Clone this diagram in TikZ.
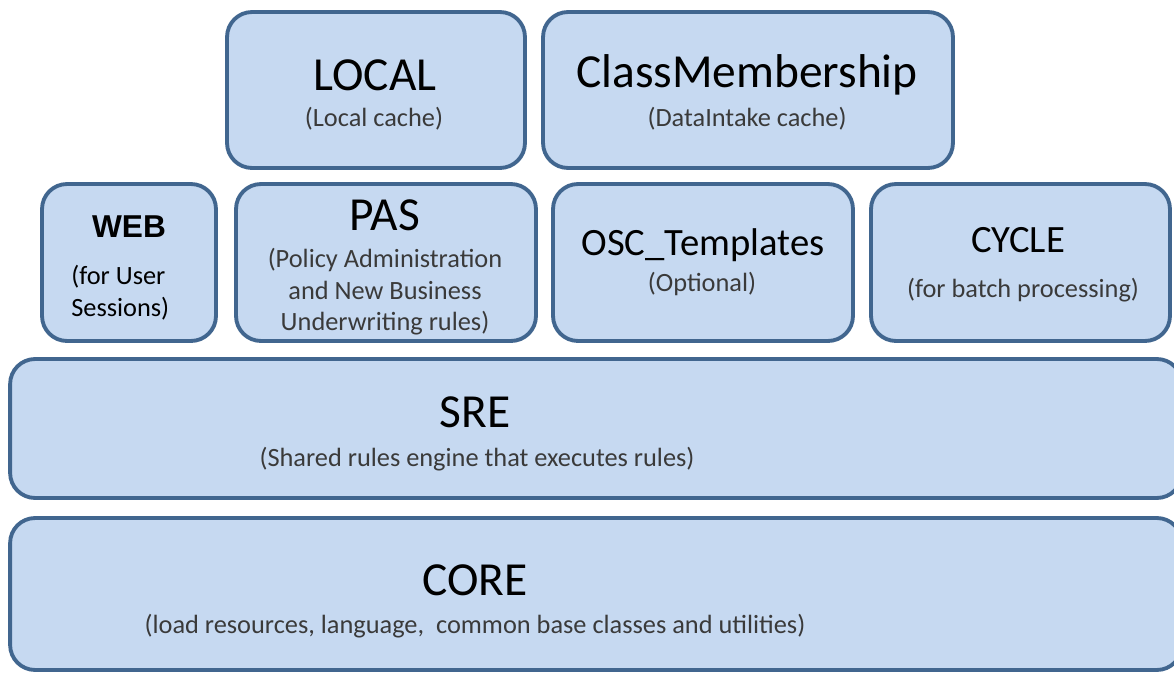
\documentclass[tikz,border=0pt]{standalone}
\usepackage{fontspec}
\setmainfont{Carlito}
\newfontfamily\webfont{Liberation Sans}
\usetikzlibrary{positioning}
\definecolor{layerfill}{HTML}{C6D9F1}
\definecolor{layerline}{HTML}{41668F}
\definecolor{subgray}{HTML}{3A3A3A}

\tikzset{
    layer/.style={draw=layerline, fill=layerfill, line width=2.2pt,
        rounded corners=0.5cm, inner sep=0pt},
    title/.style={font=\fontsize{27}{30}\selectfont, text=black, inner sep=0pt},
    smalltitle/.style={font=\fontsize{22}{25}\selectfont, text=black, inner sep=0pt},
    sub/.style={font=\fontsize{15}{18}\selectfont, text=subgray, inner sep=0pt, align=center}
}

\begin{document}
\begin{tikzpicture}[x=0.02cm, y=-0.02cm]
    \useasboundingbox (0,0) rectangle (1174,673);
    \clip (0,0) rectangle (1174,673);

    % top row
    \node[layer, minimum width=5.96cm, minimum height=3.12cm] (local) at (376,90) {};
    \node[layer, minimum width=8.2cm, minimum height=3.12cm] (classm) at (748,90) {};
    \node[title] (localT) at (375,75) {LOCAL};
    \node[sub] (localS) at (374,119) {(Local cache)};
    \node[title] (classmT) at (747,75) {ClassMembership};
    \node[sub] (classmS) at (747,119) {(DataIntake cache)};

    % middle row
    \node[layer, minimum width=3.48cm, minimum height=3.14cm] (web) at (129,262.5) {};
    \node[layer, minimum width=6.0cm, minimum height=3.14cm] (pas) at (386,262.5) {};
    \node[layer, minimum width=6.0cm, minimum height=3.14cm] (osc) at (703,262.5) {};
    \node[layer, minimum width=5.98cm, minimum height=3.14cm] (cycle) at (1020.5,262.5) {};
    \node[inner sep=0pt, font=\webfont\bfseries\fontsize{18}{20}\selectfont] (webT) at (129,227) {WEB};
    \node[sub, text=black, align=left, anchor=west] (webS) at (71,293) {(for User\\Sessions)};
    \node[title] (pasT) at (385,215) {PAS};
    \node[sub] (pasS) at (385,292) {(Policy Administration\\and New Business\\Underwriting rules)};
    \node[smalltitle] (oscT) at (703,245) {OSC\_Templates};
    \node[sub] (oscS) at (702,284) {(Optional)};
    \node[smalltitle] (cycleT) at (1018,240) {CYCLE};
    \node[sub] (cycleS) at (1023,290) {(for batch processing)};

    % base layers
    \node[layer, minimum width=23.44cm, minimum height=2.78cm] (sre) at (596,428.5) {};
    \node[title] (sreT) at (475,412) {SRE};
    \node[sub] (sreS) at (477,459) {(Shared rules engine that executes rules)};
    \node[layer, minimum width=23.44cm, minimum height=3.04cm] (core) at (596,594) {};
    \node[title] (coreT) at (475,580) {CORE};
    \node[sub] (coreS) at (475,626) {(load resources, language,\ \ common base classes and utilities)};
\end{tikzpicture}
\end{document}
